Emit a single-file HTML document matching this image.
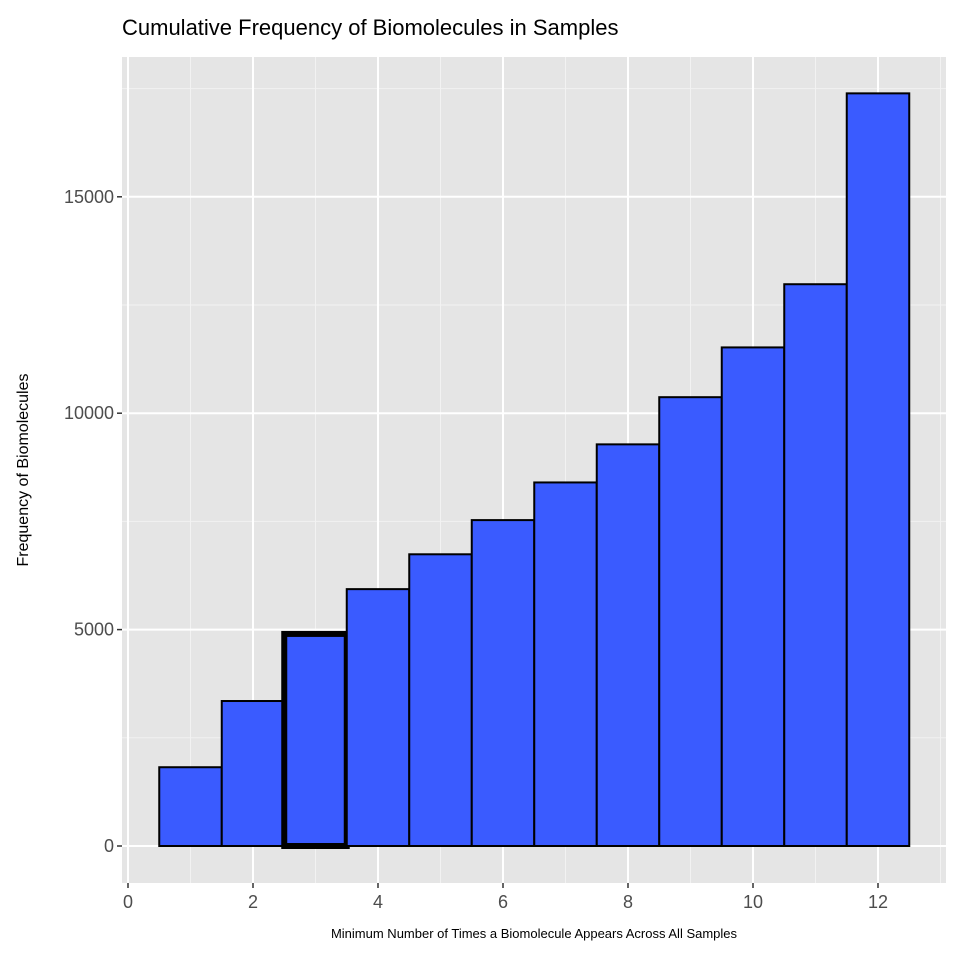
<!DOCTYPE html>
<html><head><meta charset="utf-8"><style>
body{margin:0;background:#fff;font-family:"Liberation Sans",Arial,sans-serif}
</style></head><body>
<svg id="c" width="960" height="960" xmlns="http://www.w3.org/2000/svg">
<rect width="960" height="960" fill="#fff"/>
<text x="122" y="35" font-size="22" fill="#000">Cumulative Frequency of Biomolecules in Samples</text>
<rect x="122" y="57" width="824" height="826" fill="#e5e5e5"/>
<g id="grid"></g><g id="bars"></g><g id="axes"></g>
<text x="534" y="938" font-size="13" text-anchor="middle">Minimum Number of Times a Biomolecule Appears Across All Samples</text>
<text transform="translate(28,470) rotate(-90)" font-size="16" text-anchor="middle">Frequency of Biomolecules</text>
</svg>
<script>
const categories=[1,2,3,4,5,6,7,8,9,10,11,12];
const values=[1820,3350,4900,5935,6740,7530,8400,9280,10370,11520,12980,17390];
const highlighted=[3];
const xTicks=[0,2,4,6,8,10,12];
const yTicks=[0,5000,10000,15000];
const NS="http://www.w3.org/2000/svg";
const L=122,R=946,T=57,B=883;
const xs=v=>128+v*62.5;
const ys=v=>846-v*0.04328;
function mk(t,a,p){const e=document.createElementNS(NS,t);for(const k in a)e.setAttribute(k,a[k]);p.appendChild(e);return e;}
const g=document.getElementById('grid'),bg=document.getElementById('bars'),ax=document.getElementById('axes');
for(let v=1;v<=13;v+=2){if(xs(v)<R){const l=mk('line',{x1:xs(v),x2:xs(v),y1:T,y2:B,stroke:'#f2f2f2','stroke-width':1},g);}}
for(let v=2500;v<20000;v+=5000){if(ys(v)>T){const l=mk('line',{x1:L,x2:R,y1:ys(v),y2:ys(v),stroke:'#f2f2f2','stroke-width':1},g);}}
xTicks.forEach(v=>{const l=mk('line',{x1:xs(v),x2:xs(v),y1:T,y2:B,stroke:'#fff','stroke-width':2},g);
const t=mk('line',{x1:xs(v),x2:xs(v),y1:B,y2:B+5,stroke:'#333','stroke-width':1.5},ax);
const s=mk('text',{x:xs(v),y:B+25,'font-size':18,'text-anchor':'middle',fill:'#4d4d4d'},ax);s.textContent=v;});
yTicks.forEach(v=>{const l=mk('line',{x1:L,x2:R,y1:ys(v),y2:ys(v),stroke:'#fff','stroke-width':2},g);
const t=mk('line',{x1:L-5,x2:L,y1:ys(v),y2:ys(v),stroke:'#333','stroke-width':1.5},ax);
const s=mk('text',{x:L-8,y:ys(v)+6,'font-size':18,'text-anchor':'end',fill:'#4d4d4d'},ax);s.textContent=v;});
categories.forEach((c,i)=>{const hi=highlighted.includes(c);const y=ys(values[i]);
const r=mk('rect',{x:xs(c-0.5),y:y,width:xs(c+0.5)-xs(c-0.5),height:ys(0)-y,fill:'#3a5bff',stroke:'#000','stroke-width':hi?6:2},bg);
});
</script>
</body></html>
